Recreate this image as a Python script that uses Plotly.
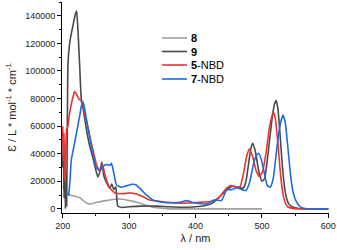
import plotly.graph_objects as go

# ---- data ----
wl_8 = [200, 203, 206, 210, 215, 220, 226, 231, 236, 242, 253, 265, 278, 290, 301, 311, 321, 336, 350, 360, 400, 450, 500]
eps_8 = [17000, 13000, 11500, 10000, 9500, 9000, 8000, 6000, 4300, 3500, 5000, 6000, 7000, 7000, 6000, 5000, 3400, 1200, 400, 0, 0, 0, 0]

wl_9 = [200, 201, 202, 203, 204, 205, 206, 207, 208, 210, 213, 216, 219, 221, 223, 225.5, 228, 231, 236, 241, 245, 248, 253, 256, 259, 262, 266, 271, 274, 277, 280, 283, 290, 300, 320, 340, 360, 380, 400, 415, 425, 437, 447, 456, 465, 472, 476, 480, 483, 486, 490, 495, 500, 504, 508, 512, 516, 519, 521.5, 524, 527, 530, 533, 536, 540, 545, 555, 600]
eps_9 = [30000, 50000, 8000, 35000, 0, 25000, 2000, 60000, 105000, 118000, 127000, 134000, 141000, 143500, 130000, 105000, 80000, 72000, 57000, 45000, 38000, 32000, 23000, 27000, 34000, 24000, 19000, 15000, 18000, 14000, 16000, 2000, 1000, 1500, 2000, 2000, 1500, 1200, 1500, 2500, 4000, 9000, 14000, 16500, 15500, 15000, 20000, 33000, 43000, 47600, 42000, 28000, 20000, 22000, 35000, 52000, 68000, 76000, 78500, 73000, 56000, 36000, 20000, 10000, 4000, 1500, 300, 0]

wl_5 = [200, 201, 202, 203, 204, 205, 206, 208, 210, 213, 216, 218, 221, 224, 228, 231, 234, 238, 242, 246, 251, 256, 260, 263, 266, 270, 274, 279, 290, 300, 310, 320, 331, 345, 357, 377, 390, 402, 422, 430, 437, 445, 452, 460, 467, 472, 477, 481, 486, 491, 496, 501, 506, 511, 515, 517.5, 520, 524, 528, 532, 536, 540, 550, 600]
eps_5 = [60000, 35000, 55000, 25000, 20000, 50000, 58000, 60000, 68000, 76000, 82000, 85000, 83000, 80000, 78000, 74000, 67000, 59000, 50000, 42000, 32000, 27000, 32000, 26000, 21000, 16000, 13500, 11500, 11000, 11500, 11000, 9000, 6500, 5500, 4800, 4100, 4200, 4600, 5300, 6500, 9000, 14000, 16700, 16000, 16000, 25000, 38000, 43300, 38000, 28000, 23400, 27000, 40000, 58000, 67000, 69800, 66000, 48000, 25000, 10000, 3500, 1200, 200, 0]

wl_7 = [209, 211, 213, 218, 222, 225.5, 228, 230.5, 233, 236, 241, 246, 251, 256, 260, 263, 268, 271, 273.5, 276, 281, 288, 295, 305, 310, 316, 321, 326, 336, 351, 370, 380, 387, 395, 402, 417, 429, 439, 447, 455, 460, 465, 470, 476, 482, 487, 491, 495, 499, 504, 508, 512.5, 517, 522, 527, 531.6, 535, 539, 543, 547, 552, 558, 565, 600]
eps_7 = [9400, 20000, 35500, 47800, 58000, 67000, 74000, 77800, 73000, 64500, 51400, 39100, 29500, 28300, 29500, 31900, 32000, 31500, 33100, 28300, 17400, 15700, 16500, 17800, 17500, 15000, 12500, 10100, 6500, 4800, 4500, 5200, 6000, 4800, 4100, 3600, 6500, 6000, 13800, 14000, 15000, 15000, 14000, 13300, 20000, 32000, 38000, 40300, 36000, 25000, 17000, 15700, 22000, 42000, 60000, 68100, 63000, 45000, 25000, 12000, 5000, 1500, 300, 0]

series = [
    ("<b>8</b>", wl_8, eps_8, "#a0a0a0"),
    ("<b>9</b>", wl_9, eps_9, "#4a4a4a"),
    ("<b>5</b>-NBD", wl_5, eps_5, "#ee3232"),
    ("<b>7</b>-NBD", wl_7, eps_7, "#1e6be0"),
]

FONT = "Liberation Sans, Arial, sans-serif"
fig = go.Figure()
for name, x, y, c in series:
    fig.add_trace(go.Scatter(x=x, y=y, mode="lines", name=name,
                             line=dict(color=c, width=1.6, shape="spline", smoothing=0.45),
                             showlegend=False))

# custom compact legend
L, R, T, B = 62, 8, 2, 37
W, H = 337 - L - R, 250 - T - B
rows_py = [38, 51.5, 65, 79]
for (name, x, y, c), py in zip(series, rows_py):
    yp = (250 - B - py) / H
    fig.add_shape(type="line", xref="paper", yref="paper",
                  x0=(162 - L) / W, x1=(187 - L) / W, y0=yp, y1=yp,
                  line=dict(color=c, width=1.6))
    fig.add_annotation(xref="paper", yref="paper", x=(189 - L) / W, y=yp,
                       text=name, showarrow=False, xanchor="left", yanchor="middle",
                       font=dict(family=FONT, size=11, color="#000"))

axis_common = dict(showline=True, linecolor="#000", linewidth=1, ticks="outside",
                   ticklen=4, tickwidth=1, tickcolor="#000", showgrid=False, zeroline=False,
                   tickfont=dict(family=FONT, size=9, color="#222"))
fig.update_xaxes(range=[199, 601], tick0=200, dtick=100,
                 minor=dict(ticks="outside", ticklen=2, dtick=50, tick0=200, tickcolor="#000"),
                 title=dict(text="λ / nm", font=dict(family=FONT, size=11, color="#222"), standoff=4),
                 **axis_common)
fig.update_yaxes(range=[-3000, 150000], tick0=0, dtick=20000, tickformat="d",
                 minor=dict(ticks="outside", ticklen=2, dtick=10000, tick0=0, tickcolor="#000"),
                 title=dict(text="Ɛ / L * mol<sup>-1</sup> * cm<sup>-1</sup>",
                            font=dict(family=FONT, size=11, color="#222"), standoff=6),
                 **axis_common)
fig.update_layout(width=337, height=250, margin=dict(l=L, r=R, t=T, b=B),
                  plot_bgcolor="white", paper_bgcolor="white")
fig.write_html("out.html", config={"displayModeBar": False},
               post_script="document.body.style.margin='0';")
